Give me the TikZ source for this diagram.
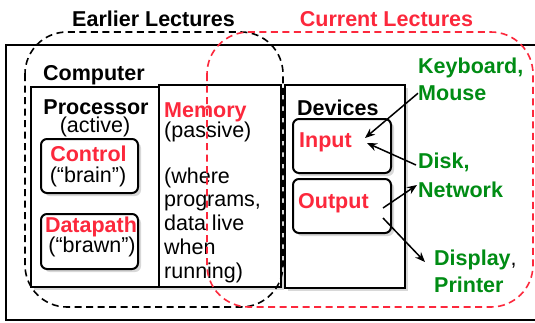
\documentclass[tikz,border=0pt]{standalone}
\usepackage{fontspec}
\setmainfont{Liberation Sans}
\usetikzlibrary{arrows.meta,shadows}
\definecolor{lred}{RGB}{252,40,60}
\definecolor{lgreen}{RGB}{0,140,20}
\begin{document}
\begin{tikzpicture}[x=1pt,y=-1pt,
  font=\fontsize{21.5}{23.7}\selectfont,
  box/.style={draw=black,line width=2pt,fill=white,inner sep=0pt,anchor=north west,
    drop shadow={shadow xshift=3pt,shadow yshift=-3pt,opacity=0.3,fill=gray}},
  rbox/.style={box,rounded corners=6pt},
  txt/.style={inner sep=0pt,anchor=base west},
  ctxt/.style={inner sep=0pt,anchor=base},
  hd/.style={font=\fontsize{21.5}{23.7}\selectfont\bfseries},
  redt/.style={hd,text=lred},
  greent/.style={hd,text=lgreen},
  bdash/.style={draw=black,line width=1.6pt,dash pattern=on 7pt off 4.5pt,rounded corners=42pt},
  rdash/.style={draw=lred,line width=1.6pt,dash pattern=on 7pt off 4.5pt,rounded corners=42pt},
  conn/.style={draw=black,line width=1.5pt,-{Stealth[length=10pt,width=8pt]}}]
\useasboundingbox (0,0) rectangle (535,322);
\clip (0,0) rectangle (535,322);
\fill[white] (0,0) rectangle (535,322);
% outer frame
\draw[line width=2pt] (6,45) rectangle (560,320);
% boxes
\node[box,minimum width=128pt,minimum height=200pt] (proc) at (30,86) {};
\node[box,minimum width=122pt,minimum height=202pt] (mem) at (158,84) {};
\node[box,minimum width=120pt,minimum height=203pt] (dev) at (284,84) {};
\node[rbox,minimum width=97pt,minimum height=54pt] (ctrl) at (40,138) {};
\node[rbox,minimum width=97pt,minimum height=55pt] (dp) at (40,213) {};
\node[rbox,minimum width=98pt,minimum height=54pt] (inb) at (292,118) {};
\node[rbox,minimum width=98pt,minimum height=54pt] (outb) at (292,178) {};
% titles
\node[ctxt,hd] (earlier) at (153.5,26) {Earlier Lectures};
\node[ctxt,redt] (current) at (386.5,26) {Current Lectures};
\node[txt,hd] (computer) at (43,80) {Computer};
% processor
\node[ctxt,hd] (proct) at (96,114) {Processor};
\node[ctxt] (active) at (95,132.5) {(active)};
\node[ctxt,redt] (ctrlt) at (88.5,161) {Control};
\node[ctxt] (brain) at (88,182.5) {(“brain”)};
\node[ctxt,redt] (dpt) at (91,232.5) {Datapath};
\node[ctxt] (brawn) at (92,252) {(“brawn”)};
% memory
\node[txt,redt] (memt) at (164,117) {Memory};
\node[txt] (passive) at (164,137.5) {(passive)};
\node[txt] (m1) at (164,183) {(where};
\node[txt] (m2) at (164,206.8) {programs,};
\node[txt] (m3) at (164,230.6) {data live};
\node[txt] (m4) at (164,254.4) {when};
\node[txt] (m5) at (164,278) {running)};
% devices
\node[txt,hd] (devt) at (297,115) {Devices};
\node[txt,redt] (inputt) at (299,147.5) {Input};
\node[txt,redt] (outputt) at (298,208) {Output};
% external devices
\node[txt,greent] (kb) at (418,73.5) {Keyboard,};
\node[txt,greent] (mouse) at (418,100.5) {Mouse};
\node[txt,greent] (disk) at (418,168.5) {Disk,};
\node[txt,greent] (net) at (418,197.5) {Network};
\node[txt,greent] (disp) at (434,265.5) {Display{\color{black}\mdseries,}};
\node[txt,greent] (prn) at (434,292) {Printer};
% dashed groupings
\draw[bdash] (25,32) rectangle (283,307);
\draw[rdash] (207,32) rectangle (533,307);
% arrow end points
\coordinate (inA) at (365,138);
\coordinate (inB) at (367,143);
\coordinate (diskS) at (416,165);
\coordinate (outA) at (383,208);
\coordinate (outB) at (383,218);
\coordinate (netE) at (417,185);
\coordinate (dispE) at (425,262);
\draw[conn] (mouse.west) -- (inA);
\draw[conn] (diskS) -- (inB);
\draw[conn] (outA) -- (netE);
\draw[conn] (outB) -- (dispE);
\end{tikzpicture}
\end{document}
